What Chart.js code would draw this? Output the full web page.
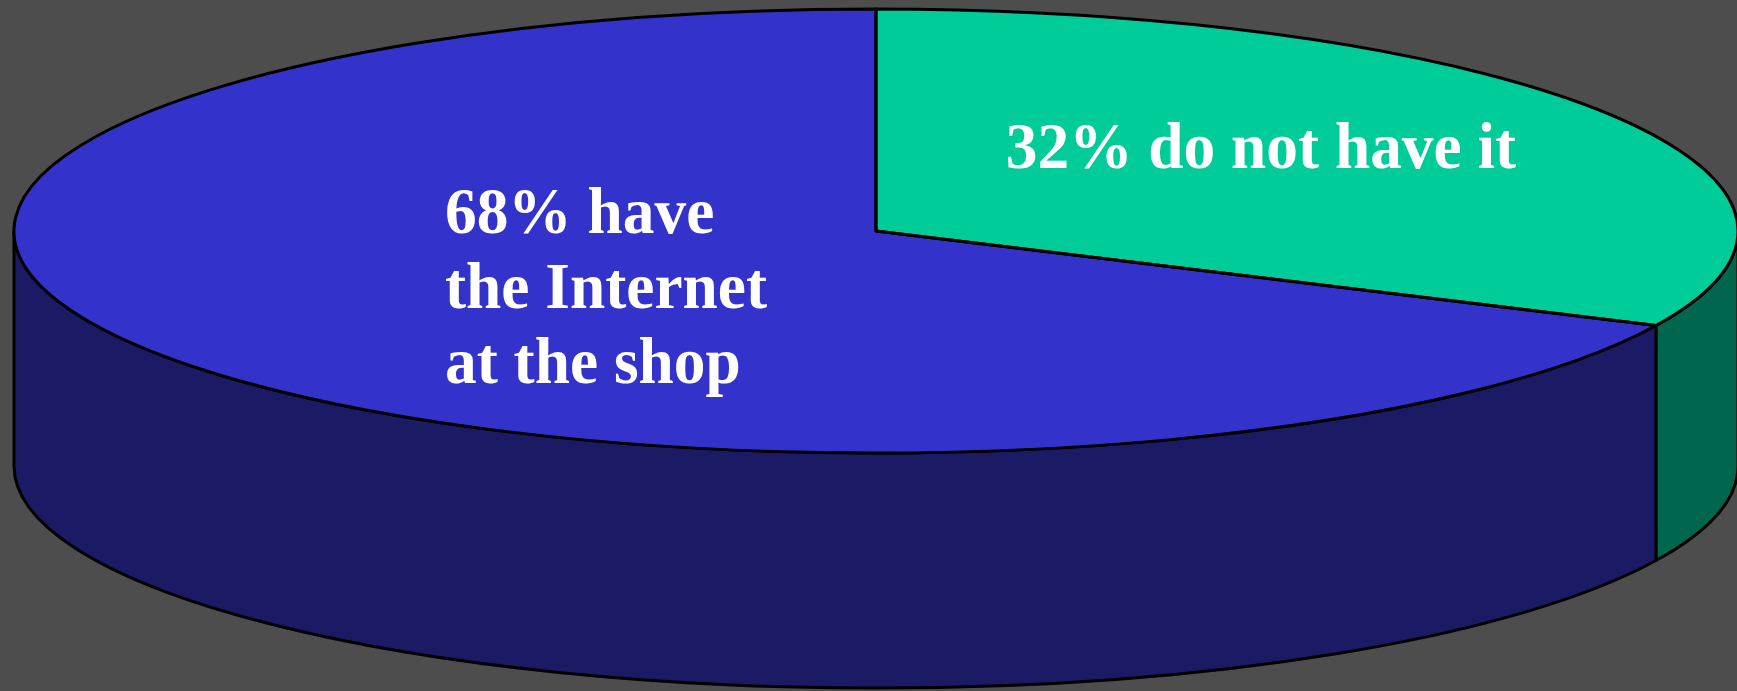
<!DOCTYPE html>
<html>
<head>
<meta charset="utf-8">
<title>Internet at the shop</title>
<script src="https://cdn.jsdelivr.net/npm/chart.js@4.4.1/dist/chart.umd.min.js"></script>
<style>
  html, body { margin: 0; padding: 0; background: #4d4d4d; overflow: hidden; }
  canvas { display: block; }
</style>
</head>
<body>
<canvas id="pieChart" width="1737" height="691"></canvas>
<script>
// shares of shops, clockwise from 12 o'clock
const categories = ['Do not have it', 'Have the Internet at the shop'];
const shares = [32, 68];
const sliceLabels = [
    ['32% do not have it'],
    ['68% have', 'the Internet', 'at the shop']
];
const topColors = ['#00cc99', '#3333cc'];
const sideColors = ['#00664d', '#1b1a64'];

// tilted disc geometry
const disc = { cx: 876, cy: 231, rx: 862, ry: 222, depth: 235 };

// map the flat pie the library lays out onto the tilted ellipse
function tilt(ctx, el) {
    ctx.translate(disc.cx, disc.cy);
    ctx.scale(disc.rx / el.outerRadius, disc.ry / el.outerRadius);
    ctx.translate(-el.x, -el.y);
}

// text is set a touch narrow, like the slide font
function drawLines(ctx, lines, x, y, align) {
    ctx.save();
    ctx.translate(x, y);
    ctx.scale(0.96, 1);
    ctx.textAlign = align;
    lines.forEach((line, k) => {
        ctx.fillText(line, 0, k * 75);
    });
    ctx.restore();
}

const pie3d = {
    id: 'pie3d',
    beforeDatasetsDraw(chart) {
        const ctx = chart.ctx;
        const arcs = chart.getDatasetMeta(0).data;

        // front wall: only the part of each slice between 0 and PI faces us
        arcs.forEach((el, i) => {
            const a = Math.max(el.startAngle, 0);
            const b = Math.min(el.endAngle, Math.PI);
            if (b <= a) return;
            ctx.save();
            ctx.beginPath();
            ctx.ellipse(disc.cx, disc.cy, disc.rx, disc.ry, 0, a, b);
            ctx.ellipse(disc.cx, disc.cy + disc.depth, disc.rx, disc.ry, 0, b, a, true);
            ctx.closePath();
            ctx.fillStyle = sideColors[i];
            ctx.fill();
            ctx.lineWidth = 3;
            ctx.lineJoin = 'round';
            ctx.strokeStyle = '#000';
            ctx.stroke();
            ctx.restore();
        });

        // top faces are drawn by the library under the tilt transform
        ctx.save();
        tilt(ctx, arcs[0]);
    },
    afterDatasetsDraw(chart) {
        const ctx = chart.ctx;
        ctx.restore();
        const arcs = chart.getDatasetMeta(0).data;

        // outlines: build the path tilted, stroke it untilted so the width stays even
        arcs.forEach((el) => {
            ctx.save();
            tilt(ctx, el);
            ctx.beginPath();
            ctx.moveTo(el.x, el.y);
            ctx.arc(el.x, el.y, el.outerRadius, el.startAngle, el.endAngle);
            ctx.closePath();
            ctx.restore();
            ctx.save();
            ctx.lineWidth = 3;
            ctx.lineJoin = 'round';
            ctx.strokeStyle = '#000';
            ctx.stroke();
            ctx.restore();
        });
    },
    afterDraw(chart) {
        const ctx = chart.ctx;
        ctx.save();
        ctx.fillStyle = '#ffffff';
        ctx.font = 'bold 66px "Liberation Serif", "Times New Roman", serif';
        ctx.textBaseline = 'alphabetic';
        drawLines(ctx, sliceLabels[0], 1261, 168, 'center');
        drawLines(ctx, sliceLabels[1], 445, 233, 'left');
        ctx.restore();
    }
};

const ctx = document.getElementById('pieChart').getContext('2d');
const chart = new Chart(ctx, {
    type: 'pie',
    data: {
        labels: categories,
        datasets: [{
            data: shares,
            backgroundColor: topColors,
            borderWidth: 0,
            clip: false
        }]
    },
    options: {
        responsive: false,
        animation: false,
        events: [],
        layout: { padding: 0 },
        plugins: {
            legend: { display: false },
            tooltip: { enabled: false }
        }
    },
    plugins: [pie3d]
});
</script>
</body>
</html>
